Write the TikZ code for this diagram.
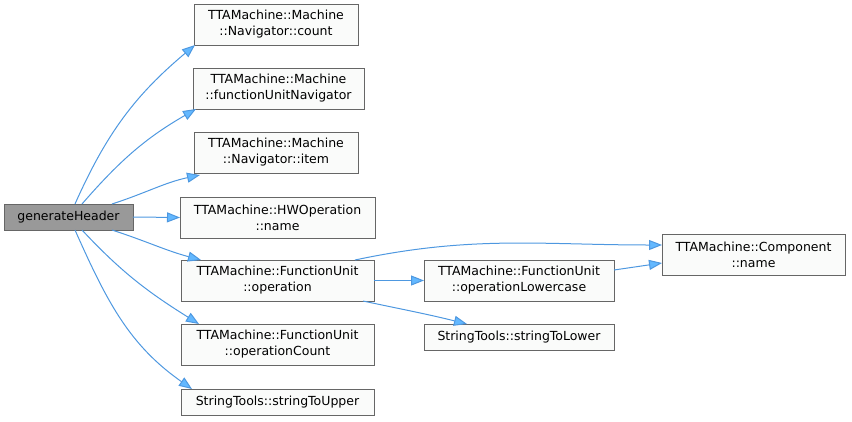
\documentclass[tikz,border=0pt]{standalone}
\usepackage{fontspec}
\setmainfont{DejaVu Sans}
\usetikzlibrary{arrows.meta}

\definecolor{edgeblue}{RGB}{78,152,224}
\definecolor{tipblue}{RGB}{99,184,255}
\definecolor{boxline}{RGB}{102,102,102}
\definecolor{boxfill}{RGB}{250,251,250}
\definecolor{rootfill}{RGB}{153,153,153}

\tikzset{
  fnbox/.style={
    draw=boxline, fill=boxfill, line width=0.9pt,
    minimum height=41pt, align=center,
    font=\fontsize{12.5}{16}\selectfont,
    inner sep=0pt
  },
  onebox/.style={
    fnbox, minimum height=26pt
  },
  rootbox/.style={
    fnbox, fill=rootfill, minimum height=26pt
  },
  callarrow/.style={
    draw=edgeblue, line width=1pt,
    -{Triangle[length=13pt,width=10pt,fill=tipblue]}
  },
}

\begin{document}
\begin{tikzpicture}[x=1pt, y=-1pt, every node/.style={outer sep=0pt}]

\useasboundingbox (0,0) rectangle (852,421);

%% Caller
\node[rootbox, minimum width=129pt] (gen) at (68.5, 217) {generateHeader};

%% Direct callees
\node[fnbox, minimum width=164pt] (count) at (276, 24.5)
  {TTAMachine::Machine\\::Navigator::count};
\node[fnbox, minimum width=171pt] (funav) at (278.5, 88.5)
  {TTAMachine::Machine\\::functionUnitNavigator};
\node[fnbox, minimum width=164pt] (item) at (276, 152.5)
  {TTAMachine::Machine\\::Navigator::item};
\node[fnbox, minimum width=195pt] (hwname) at (277.5, 217.5)
  {TTAMachine::HWOperation\\::name};
\node[fnbox, minimum width=193pt] (oper) at (277.5, 280.5)
  {TTAMachine::FunctionUnit\\::operation};
\node[fnbox, minimum width=193pt] (opcount) at (277.5, 344.5)
  {TTAMachine::FunctionUnit\\::operationCount};
\node[onebox, minimum width=193pt] (toupper) at (277.5, 402)
  {StringTools::stringToUpper};

%% Called from FunctionUnit::operation
\node[fnbox, minimum width=190pt] (oplower) at (519, 280.5)
  {TTAMachine::FunctionUnit\\::operationLowercase};
\node[onebox, minimum width=190pt] (tolower) at (519, 337)
  {StringTools::stringToLower};
\node[fnbox, minimum width=183pt] (compname) at (753.5, 254.5)
  {TTAMachine::Component\\::name};

%% Edges out of generateHeader
\draw[callarrow] ([xshift=6.5pt]gen.north) to[out=66, in=-140] ([xshift=1pt]count.south west);
\draw[callarrow] ([xshift=13.5pt]gen.north) to[out=49, in=-150] ([xshift=3pt]funav.south west);
\draw[callarrow] ([xshift=43.5pt]gen.north) to[out=18, in=-168] ([xshift=6pt,yshift=-2pt]item.south west);
\draw[callarrow] (gen.east) -- (hwname.west);
\draw[callarrow] ([xshift=43.5pt]gen.south) to[out=-18, in=165] ([xshift=20pt]oper.north west);
\draw[callarrow] ([xshift=13.5pt]gen.south) to[out=-47, in=148] ([xshift=18pt]opcount.north west);
\draw[callarrow] ([xshift=6.5pt]gen.south) to[out=-66, in=145] ([xshift=11pt]toupper.north west);

%% Edges out of FunctionUnit::operation
\draw[callarrow] ([xshift=-19pt]oper.north east) to[out=12, in=180] ([yshift=9.5pt]compname.west);
\draw[callarrow] (oper.east) -- (oplower.west);
\draw[callarrow] ([xshift=-11pt]oper.south east) to[out=-12, in=166] ([xshift=43pt]tolower.north west);

%% Edge out of FunctionUnit::operationLowercase
\draw[callarrow] ([yshift=10.5pt]oplower.east) -- ([yshift=-8.5pt]compname.west);

\end{tikzpicture}
\end{document}
